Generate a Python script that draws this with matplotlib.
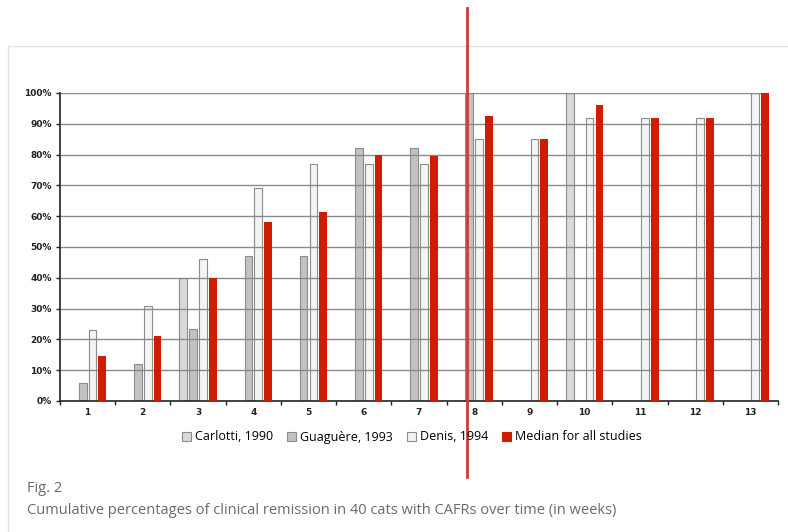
import matplotlib
matplotlib.use("Agg")
import matplotlib.pyplot as plt
import numpy as np
from matplotlib.lines import Line2D

# Weeks and cumulative remission (%) per study; None = no bar
weeks = list(range(1, 14))
carlotti = [None, None, 40, None, None, None, None, None, None, 100, None, None, None]
guaguere = [6, 12, 23.5, 47, 47, 82, 82, 100, None, None, None, None, None]
denis = [23, 31, 46, 69, 77, 77, 77, 85, 85, 92, 92, 92, 100]
median = [14.5, 21, 40, 58, 61.5, 80, 79.5, 92.5, 85, 96, 92, 92, 100]

series_names = ["Carlotti, 1990", "Guaguère, 1993", "Denis, 1994", "Median for all studies"]
series_colors = ["#d9d9d9", "#c2c2c2", "#f4f4f4", "#d01c00"]
y_ticks = [0, 10, 20, 30, 40, 50, 60, 70, 80, 90, 100]

fig = plt.figure(figsize=(7.88, 5.32), dpi=100)
fig.patch.set_facecolor("white")

# page frame lines (top and left edge of the figure box)
fig.add_artist(Line2D([8 / 788, 1.0], [1 - 46 / 532, 1 - 46 / 532], color="#e2e2e2", lw=1))
fig.add_artist(Line2D([8 / 788, 8 / 788], [0, 1 - 46 / 532], color="#e2e2e2", lw=1))

ax = fig.add_axes([60 / 788, 131 / 532, 718 / 788, 308 / 532])

x = np.array(weeks, dtype=float)
w = 0.14
step = 0.178
all_series = [carlotti, guaguere, denis, median]
for i, (vals, col) in enumerate(zip(all_series, series_colors)):
    xs = [xi + (i - 1.5) * step for xi, v in zip(x, vals) if v is not None]
    ys = [v for v in vals if v is not None]
    if i == 3:
        ax.bar(xs, ys, width=w, color=col, edgecolor=col, linewidth=0, zorder=3)
    else:
        ax.bar(xs, ys, width=w, color=col, edgecolor="#8c8c8c", linewidth=0.8, zorder=1)

ax.set_xlim(0.5, 13.5)
ax.set_ylim(0, 100)
ax.set_yticks(y_ticks)
ax.set_yticklabels([f"{t}%" for t in y_ticks], fontsize=6.5, fontweight="bold", color="#222222")
ax.set_xticks(weeks)
ax.set_xticklabels([str(wk) for wk in weeks], fontsize=6.5, fontweight="bold", color="#222222")
ax.set_xticks(np.arange(0.5, 14, 1), minor=True)
ax.tick_params(axis="x", which="major", length=0, pad=5)
ax.tick_params(axis="x", which="minor", length=3, width=1, color="#222222")
ax.tick_params(axis="y", length=3, width=1, color="#222222", pad=3)

for t in y_ticks[1:]:
    ax.axhline(t, xmin=0, xmax=0.983, color="#8a8a8a", lw=1, zorder=2)

for s in ["top", "right"]:
    ax.spines[s].set_visible(False)
ax.spines["left"].set_color("#222222")
ax.spines["bottom"].set_color("#222222")
ax.spines["left"].set_linewidth(1.2)
ax.spines["bottom"].set_linewidth(1.2)
ax.set_facecolor("white")

handles = [plt.Rectangle((0, 0), 1, 1, facecolor=c,
                         edgecolor=("#8c8c8c" if k < 3 else c), linewidth=0.8)
           for k, c in enumerate(series_colors)]
fig.legend(handles, series_names, loc="center", bbox_to_anchor=(412 / 788, 1 - 437 / 532),
           ncol=4, frameon=False, handlelength=0.7, handleheight=0.7,
           handletextpad=0.35, columnspacing=1.1, prop={"family": "Open Sans", "size": 9})

fig.text(27 / 788, 1 - 489 / 532, "Fig. 2", fontsize=10.5, color="#6a6a6a",
         family="Open Sans", va="center")
fig.text(27 / 788, 1 - 511 / 532,
         "Cumulative percentages of clinical remission in 40 cats with CAFRs over time (in weeks)",
         fontsize=10.5, color="#6a6a6a", family="Open Sans", va="center")

# vertical red marker line across the figure
fig.add_artist(Line2D([467 / 788, 467 / 788], [1 - 477 / 532, 1 - 8 / 532], color="#cc3a3a", lw=2))

plt.savefig("out.png", dpi=100)
plt.close()
